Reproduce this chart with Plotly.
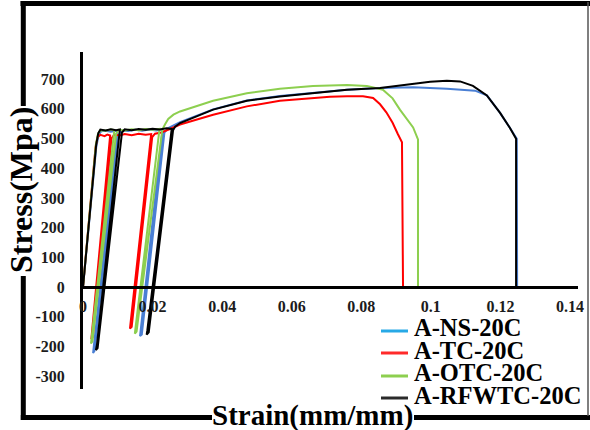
import plotly.graph_objects as go

# ---------------- data ----------------
series_names = ["A-NS-20C", "A-TC-20C", "A-OTC-20C", "A-RFWTC-20C"]

ns_strain = [0, 0.0038, 0.0045, 0.0052, 0.0065, 0.0080, 0.0098, 0.0031, 0.0029, 0.0033,
             0.0102, 0.0110, 0.0130, 0.0150, 0.0170, 0.0190, 0.0210, 0.0229, 0.0166, 0.0164,
             0.0169, 0.0234, 0.0245, 0.0260, 0.0279, 0.0374, 0.0471, 0.0566, 0.0661, 0.0759,
             0.0854, 0.0949, 0.1046, 0.1127, 0.1161, 0.1199, 0.1227, 0.1247, 0.1248]
ns_stress = [0, 470, 512, 524, 526, 523, 527, -205, -222, -215,
             510, 527, 525, 529, 526, 530, 527, 530, -150, -165,
             -160, 520, 535, 545, 555, 598, 628, 643, 654, 664,
             670, 672, 667, 661, 645, 586, 536, 499, 0]

tc_strain = [0, 0.0036, 0.0042, 0.0050, 0.0062, 0.0070, 0.0078, 0.0026, 0.0024, 0.0028,
             0.0082, 0.0090, 0.0105, 0.0120, 0.0140, 0.0160, 0.0180, 0.0196, 0.0137, 0.0135,
             0.0140, 0.0199, 0.0207, 0.0225, 0.0250, 0.0279, 0.0374, 0.0471, 0.0566, 0.0661,
             0.0710, 0.0759, 0.0805, 0.0834, 0.0854, 0.0872, 0.0890, 0.0905, 0.0917, 0.0920]
tc_stress = [0, 470, 505, 512, 508, 513, 510, -160, -175, -168,
             500, 513, 510, 515, 511, 516, 513, 515, -125, -140,
             -134, 505, 516, 520, 532, 547, 580, 608, 627, 636,
             640, 642, 642, 636, 615, 588, 553, 515, 487, 0]

otc_strain = [0, 0.0037, 0.0043, 0.0050, 0.0065, 0.0080, 0.0090, 0.0025, 0.0023, 0.0027,
              0.0095, 0.0102, 0.0120, 0.0140, 0.0160, 0.0180, 0.0200, 0.0220, 0.0151, 0.0149,
              0.0154, 0.0228, 0.0236, 0.0245, 0.0260, 0.0279, 0.0374, 0.0471, 0.0566, 0.0661,
              0.0759, 0.0816, 0.0862, 0.0890, 0.0911, 0.0930, 0.0949, 0.0963, 0.0963]
otc_stress = [0, 480, 515, 528, 526, 530, 528, -175, -190, -183,
              515, 529, 527, 531, 528, 532, 529, 532, -143, -157,
              -150, 530, 548, 566, 580, 591, 627, 652, 667, 677,
              680, 677, 664, 635, 597, 565, 537, 497, 0]

rfwtc_strain = [0, 0.0038, 0.0044, 0.0050, 0.0065, 0.0080, 0.0095, 0.0106, 0.0040, 0.0037,
                0.0042, 0.0112, 0.0120, 0.0140, 0.0160, 0.0180, 0.0200, 0.0220, 0.0240, 0.0255,
                0.0185, 0.0183, 0.0189, 0.0259, 0.0265, 0.0279, 0.0374, 0.0471, 0.0566, 0.0661,
                0.0759, 0.0854, 0.0949, 0.0998, 0.1046, 0.1084, 0.1121, 0.1161, 0.1199, 0.1227,
                0.1245, 0.1245]
rfwtc_stress = [0, 480, 518, 530, 527, 531, 528, 530, -195, -212,
                -205, 520, 531, 528, 532, 529, 533, 530, 534, 532,
                -145, -160, -152, 528, 540, 552, 597, 627, 641, 652,
                664, 670, 685, 691, 694, 692, 677, 645, 586, 536,
                499, 0]

x_tickvals = [0, 0.02, 0.04, 0.06, 0.08, 0.10, 0.12, 0.14]
x_ticktext = ["0", "0.02", "0.04", "0.06", "0.08", "0.1", "0.12", "0.14"]
y_tickvals = [-300, -200, -100, 0, 100, 200, 300, 400, 500, 600, 700]
y_ticktext = ["-300", "-200", "-100", "0", "100", "200", "300", "400", "500", "600", "700"]

# ---------------- styling ----------------
W, H = 590, 430
ML, MR, MT, MB = 83, 12, 52, 41
X_RANGE = [0, 0.1423]
Y_RANGE = [-343, 791]
curve_colors = ["#4A7FD4", "#FF0000", "#8DCF4F", "#000000"]
legend_colors = ["#27A9E6", "#FF2A2A", "#8DCF4F", "#2A2A2A"]
SERIF = "Liberation Serif"
TXT = "#1c1c1c"

pw, ph = W - ML - MR, H - MT - MB


def px(xp):
    return (xp - ML) / pw


def py(yp):
    return (H - MB - yp) / ph


fig = go.Figure()
all_x = [ns_strain, tc_strain, otc_strain, rfwtc_strain]
all_y = [ns_stress, tc_stress, otc_stress, rfwtc_stress]
for name, xs, ys, c in zip(series_names, all_x, all_y, curve_colors):
    fig.add_trace(go.Scatter(x=xs, y=ys, mode="lines", name=name,
                             line=dict(color=c, width=2), showlegend=False))

shapes = []


def seg(x0, y0, x1, y1, w=5, color="black"):
    shapes.append(dict(type="line", xref="paper", yref="paper",
                       x0=px(x0), y0=py(y0), x1=px(x1), y1=py(y1),
                       line=dict(color=color, width=w)))


# outer frame (interrupted by the axis titles)
seg(20.5, 3.5, 591, 3.5)
seg(23.3, 1, 23.3, 106)
seg(23.3, 276, 23.3, 420)
seg(20.8, 417.5, 212, 417.5)
seg(414, 417.5, 591, 417.5)
seg(588, 2, 588, 416, w=1.5, color="#555555")

annotations = [
    dict(text="<b>Stress(Mpa)</b>", xref="paper", yref="paper", x=px(21), y=py(190),
         textangle=-90, showarrow=False, xanchor="center", yanchor="middle",
         font=dict(family=SERIF, size=32, color="black")),
    dict(text="<b>Strain(mm/mm)</b>", xref="paper", yref="paper", x=px(312), y=py(415),
         showarrow=False, xanchor="center", yanchor="middle",
         font=dict(family=SERIF, size=29, color="black")),
]

# legend (drawn manually for tight line spacing)
leg_text_y = [327, 350, 372.5, 395.5]
leg_line_y = [331, 353, 376, 398]
for name, c, ty, ly in zip(series_names, legend_colors, leg_text_y, leg_line_y):
    seg(381, ly, 408, ly, w=3, color=c)
    annotations.append(dict(text="<b>" + name + "</b>", xref="paper", yref="paper",
                            x=px(412), y=py(ty),
                            showarrow=False, xanchor="left", yanchor="middle",
                            font=dict(family=SERIF, size=24.5, color="black")))

x_pos = (0 - Y_RANGE[0]) / (Y_RANGE[1] - Y_RANGE[0])

fig.update_layout(
    width=W, height=H, template="none",
    paper_bgcolor="white", plot_bgcolor="white",
    margin=dict(l=ML, r=MR, t=MT, b=MB, pad=0, autoexpand=False),
    showlegend=False,
    shapes=shapes, annotations=annotations,
    xaxis=dict(range=X_RANGE, anchor="free", position=x_pos,
               showline=True, linewidth=3, linecolor="black",
               showgrid=False, zeroline=False, ticks="",
               tickvals=x_tickvals, ticktext=x_ticktext, ticklabelstandoff=4,
               tickfont=dict(family=SERIF, size=16, color=TXT, weight="bold")),
    yaxis=dict(range=Y_RANGE, showline=True, linewidth=3, linecolor="black",
               showgrid=False, zeroline=False, ticks="",
               tickvals=y_tickvals, ticktext=y_ticktext, ticklabelstandoff=12,
               tickfont=dict(family=SERIF, size=16, color=TXT, weight="bold")),
)

fig.write_html("out.html")
